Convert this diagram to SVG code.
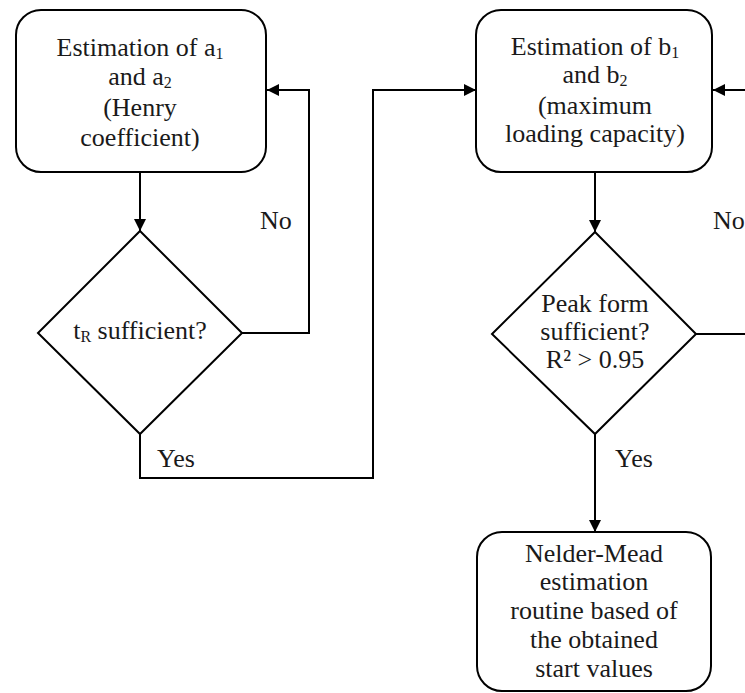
<svg xmlns="http://www.w3.org/2000/svg" width="745" height="693" viewBox="0 0 745 693">
<style>
.box{fill:#fff;stroke:#000;stroke-width:2}
.ln{fill:none;stroke:#000;stroke-width:2}
text{font-size:26px;fill:#1a1a1a;text-anchor:middle}
.lbl{text-anchor:start}
.sub{font-size:16px}
</style>
<defs>
<marker id="ah" viewBox="0 0 10 10" refX="10" refY="5" markerWidth="12" markerHeight="12" markerUnits="userSpaceOnUse" orient="auto">
<path d="M0,0 L10,5 L0,10 z" fill="#000"/>
</marker>
</defs>
<g font-family="'Liberation Serif', 'Times New Roman', serif">
<g id="connectors">
<path class="ln" d="M140,172 V231" marker-end="url(#ah)"/>
<path class="ln" d="M242,333 H309 V90 H267" marker-end="url(#ah)"/>
<path class="ln" d="M140,434 V478 H373 V90 H476" marker-end="url(#ah)"/>
<path class="ln" d="M595,172 V232" marker-end="url(#ah)"/>
<path class="ln" d="M696,334 H745"/>
<path class="ln" d="M745,90 H713" marker-end="url(#ah)"/>
<path class="ln" d="M595,434 V532" marker-end="url(#ah)"/>
<text class="lbl" x="260" y="229">No</text>
<text class="lbl" x="713" y="229">No</text>
<text class="lbl" x="157" y="467">Yes</text>
<text class="lbl" x="615" y="467">Yes</text>
</g>
<g id="box1">
<rect class="box" x="16" y="10" width="250" height="162" rx="25"/>
<text x="140" y="56">Estimation of a<tspan class="sub" dy="3">1</tspan></text>
<text x="140" y="85">and a<tspan class="sub" dy="3">2</tspan></text>
<text x="140" y="116">(Henry</text>
<text x="140" y="146">coefficient)</text>
</g>
<g id="diamond1">
<path class="box" d="M140,231 L242,333 L140,434 L38,333 z"/>
<text x="140" y="339">t<tspan class="sub" dy="3">R</tspan><tspan dy="-3"> sufficient?</tspan></text>
</g>
<g id="box2">
<rect class="box" x="476" y="10" width="236" height="162" rx="25"/>
<text x="595" y="55">Estimation of b<tspan class="sub" dy="3">1</tspan></text>
<text x="595" y="83">and b<tspan class="sub" dy="3">2</tspan></text>
<text x="595" y="114">(maximum</text>
<text x="595" y="142">loading capacity)</text>
</g>
<g id="diamond2">
<path class="box" d="M595,232 L696,334 L595,434 L492,334 z"/>
<text x="595" y="312">Peak form</text>
<text x="595" y="340">sufficient?</text>
<text x="595" y="368">R² &gt; 0.95</text>
</g>
<g id="box3">
<rect class="box" x="477" y="532" width="234" height="159" rx="25"/>
<text x="594" y="562">Nelder-Mead</text>
<text x="594" y="590">estimation</text>
<text x="594" y="619">routine based of</text>
<text x="594" y="648">the obtained</text>
<text x="594" y="677">start values</text>
</g>
</g>
</svg>
